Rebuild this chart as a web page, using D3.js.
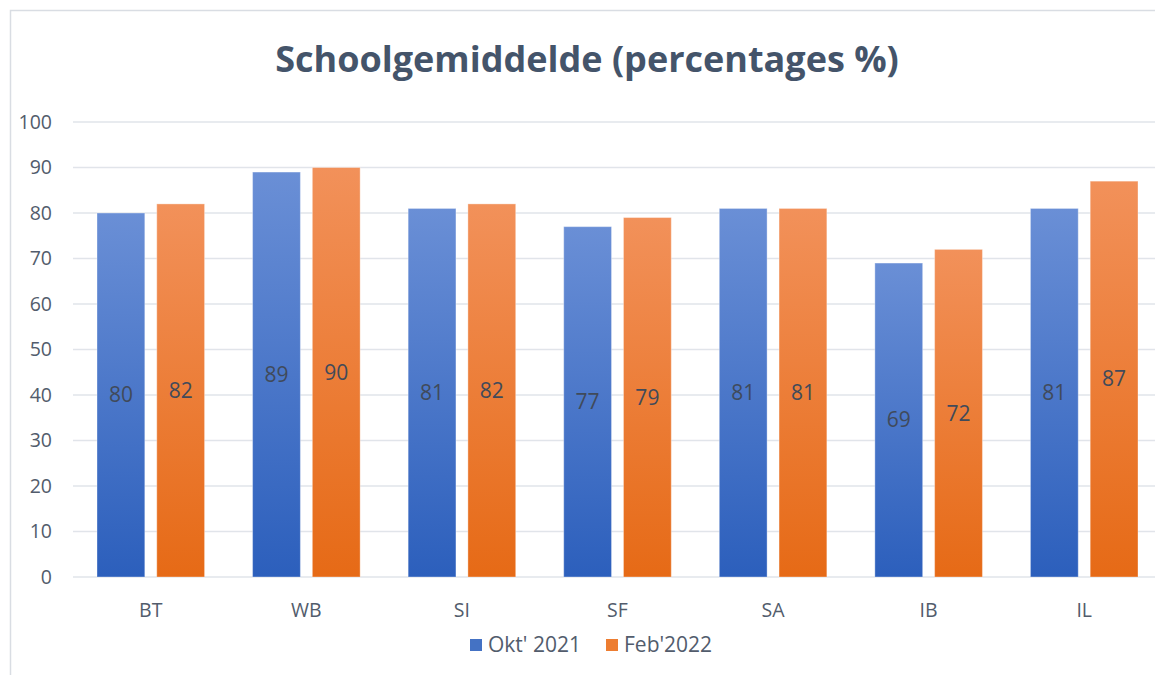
<!DOCTYPE html>
<html>
<head>
<meta charset="utf-8">
<script src="https://cdn.jsdelivr.net/npm/d3@7"></script>
<style>
  body { margin: 0; background: #fff; }
  text { font-family: "Open Sans", "Noto Sans", sans-serif; }
</style>
</head>
<body>
<div id="chart"></div>
<script>
// data
var categories = ["BT", "WB", "SI", "SF", "SA", "IB", "IL"];
var seriesNames = ["Okt' 2021", "Feb'2022"];
var okt2021 = [80, 89, 81, 77, 81, 69, 81];
var feb2022 = [82, 90, 82, 79, 81, 72, 87];
var yTicks = [0, 10, 20, 30, 40, 50, 60, 70, 80, 90, 100];

var width = 1155, height = 675;
var margin = {top: 122, right: -7, bottom: 98, left: 73};

var svg = d3.select("#chart").append("svg")
  .attr("width", width)
  .attr("height", height);

// gradients per series
var defs = svg.append("defs");
var grads = [
  {id: "gBlue", top: "#6a8fd6", bottom: "#2c5fbc"},
  {id: "gOrange", top: "#f2915a", bottom: "#e66a16"}
];
grads.forEach(function(g) {
  var lg = defs.append("linearGradient")
    .attr("id", g.id)
    .attr("x1", 0).attr("y1", 0).attr("x2", 0).attr("y2", 1);
  lg.append("stop").attr("offset", "0%").attr("stop-color", g.top);
  lg.append("stop").attr("offset", "100%").attr("stop-color", g.bottom);
});
var legendColors = ["#4472c4", "#ed7d31"];

// outer frame
svg.append("rect")
  .attr("x", 10.5).attr("y", 10.5)
  .attr("width", 1200).attr("height", 700)
  .attr("fill", "none")
  .attr("stroke", "#d9dde3")
  .attr("stroke-width", 1.5);

var x0 = d3.scaleBand()
  .domain(categories)
  .range([margin.left, width - margin.right])
  .paddingInner(0)
  .paddingOuter(0);

var x1 = d3.scaleBand()
  .domain([0, 1])
  .range([24, x0.bandwidth() - 24])
  .paddingInner(0.2);

var y = d3.scaleLinear()
  .domain([0, 100])
  .range([height - margin.bottom, margin.top]);

// title
svg.append("text")
  .attr("x", 587).attr("y", 72)
  .attr("text-anchor", "middle")
  .attr("font-size", 36)
  .attr("font-weight", "bold")
  .attr("fill", "#44546a")
  .text("Schoolgemiddelde (percentages %)");

// grid
svg.append("g").selectAll("line")
  .data(yTicks)
  .enter().append("line")
  .attr("x1", margin.left).attr("x2", width)
  .attr("y1", function(d) { return y(d); })
  .attr("y2", function(d) { return y(d); })
  .attr("stroke", "#e1e4ea")
  .attr("stroke-width", 1.5);

// y labels
svg.append("g").selectAll("text")
  .data(yTicks)
  .enter().append("text")
  .attr("x", 52)
  .attr("y", function(d) { return y(d); })
  .attr("dy", "0.35em")
  .attr("text-anchor", "end")
  .attr("font-size", 19.5)
  .attr("fill", "#525c6c")
  .text(function(d) { return d; });

// bars
var series = [okt2021, feb2022];
var fills = ["url(#gBlue)", "url(#gOrange)"];
var groups = svg.append("g").selectAll("g")
  .data(categories)
  .enter().append("g")
  .attr("transform", function(d) { return "translate(" + x0(d) + ",0)"; });

groups.selectAll("rect")
  .data(function(d, i) { return series.map(function(s, k) { return {k: k, v: s[i]}; }); })
  .enter().append("rect")
  .attr("x", function(d) { return x1(d.k); })
  .attr("y", function(d) { return y(d.v); })
  .attr("width", x1.bandwidth())
  .attr("height", function(d) { return y(0) - y(d.v); })
  .attr("fill", function(d) { return fills[d.k]; })
  .attr("stroke", "rgba(255,255,255,0.35)")
  .attr("stroke-width", 1);

groups.selectAll("text.val")
  .data(function(d, i) { return series.map(function(s, k) { return {k: k, v: s[i]}; }); })
  .enter().append("text")
  .attr("class", "val")
  .attr("x", function(d) { return x1(d.k) + x1.bandwidth() / 2; })
  .attr("y", function(d) { return (y(d.v) + y(0)) / 2; })
  .attr("dy", "0.35em")
  .attr("text-anchor", "middle")
  .attr("font-size", 21)
  .attr("fill", "#404a5a")
  .text(function(d) { return d.v; });

// x labels
svg.append("g").selectAll("text")
  .data(categories)
  .enter().append("text")
  .attr("x", function(d) { return x0(d) + x0.bandwidth() / 2; })
  .attr("y", 610)
  .attr("dy", "0.35em")
  .attr("text-anchor", "middle")
  .attr("font-size", 19.5)
  .attr("fill", "#525c6c")
  .text(function(d) { return d; });

// legend
var legendX = [470, 606];
var legend = svg.append("g").selectAll("g")
  .data(seriesNames)
  .enter().append("g")
  .attr("transform", function(d, i) { return "translate(" + legendX[i] + ",639)"; });
legend.append("rect")
  .attr("width", 12).attr("height", 12)
  .attr("fill", function(d, i) { return legendColors[i]; });
legend.append("text")
  .attr("x", 18).attr("y", 6)
  .attr("dy", "0.35em")
  .attr("font-size", 21)
  .attr("fill", "#525c6c")
  .text(function(d) { return d; });
</script>
</body>
</html>
